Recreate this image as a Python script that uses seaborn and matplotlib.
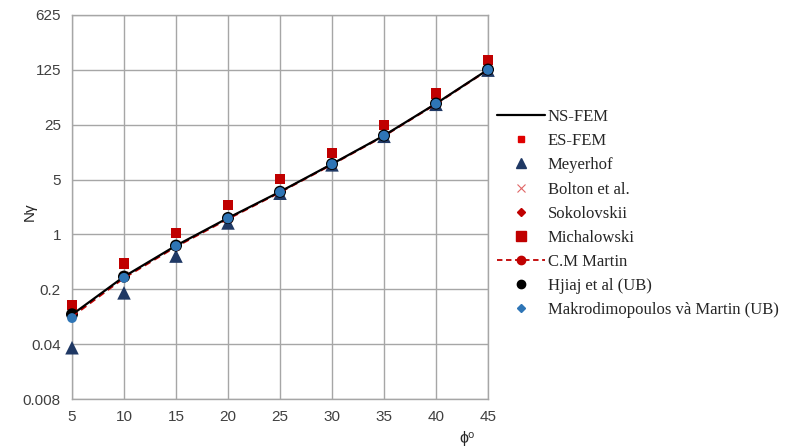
import numpy as np
import pandas as pd
import matplotlib
matplotlib.use("Agg")
import matplotlib.pyplot as plt
from matplotlib.lines import Line2D
import seaborn as sns

phi = [5, 10, 15, 20, 25, 30, 35, 40, 45]
ns_fem = [0.095, 0.29, 0.72, 1.62, 3.5, 7.9, 18.2, 46.5, 126]
es_fem = [0.098, 0.30, 0.74, 1.66, 3.6, 8.1, 18.6, 47.5, 129]
meyerhof = [0.036, 0.18, 0.53, 1.40, 3.35, 7.7, 17.8, 45.5, 124]
bolton = [0.097, 0.30, 0.73, 1.64, 3.55, 8.0, 18.4, 47.0, 128]
sokolovskii = [0.092, 0.28, 0.70, 1.58, 3.45, 7.8, 18.0, 46.0, 125]
michalowski = [0.126, 0.43, 1.04, 2.37, 5.1, 10.9, 24.8, 62.0, 167]
cm_martin = [0.090, 0.28, 0.70, 1.58, 3.45, 7.8, 18.0, 46.0, 125]
hjiaj = [0.096, 0.29, 0.72, 1.62, 3.5, 7.9, 18.2, 46.5, 126]
makro = [0.086, 0.28, 0.71, 1.60, 3.47, 7.85, 18.1, 46.2, 125]

y_ticks = [0.008, 0.04, 0.2, 1, 5, 25, 125, 625]
y_tick_labels = ["0.008", "0.04", "0.2", "1", "5", "25", "125", "625"]
x_ticks = [5, 10, 15, 20, 25, 30, 35, 40, 45]

labels = ["NS-FEM", "ES-FEM", "Meyerhof", "Bolton et al.", "Sokolovskii",
          "Michalowski", "C.M Martin", "Hjiaj et al (UB)",
          "Makrodimopoulos và Martin (UB)"]

df = pd.DataFrame({"phi": phi, "ns": ns_fem, "es": es_fem, "mey": meyerhof,
                   "bol": bolton, "sok": sokolovskii, "mic": michalowski,
                   "mar": cm_martin, "hji": hjiaj, "mak": makro})

sns.set_style("white")
plt.rcParams['font.family'] = ['Liberation Sans', 'DejaVu Sans']

fig = plt.figure(figsize=(7.96, 4.48), dpi=100)
ax = fig.add_axes([72/796, 1-399/448, (488-72)/796, (399-15)/448])

red = "#E00000"
dred = "#C00000"
navy = "#1F3864"
blue = "#2E75B6"

sns.scatterplot(data=df, x="phi", y="mic", marker="s", s=60, color=dred,
                edgecolor="none", ax=ax, zorder=3, clip_on=False)
sns.scatterplot(data=df, x="phi", y="mey", marker="^", s=95, color=navy,
                edgecolor="none", ax=ax, zorder=3, clip_on=False)
sns.scatterplot(data=df, x="phi", y="es", marker="s", s=25, color=red,
                edgecolor="none", ax=ax, zorder=3, clip_on=False)
sns.scatterplot(data=df, x="phi", y="bol", marker="x", s=30, color="#E06666",
                linewidth=1, ax=ax, zorder=3, clip_on=False)
sns.scatterplot(data=df, x="phi", y="sok", marker="D", s=20, color=dred,
                edgecolor="none", ax=ax, zorder=3, clip_on=False)
sns.scatterplot(data=df, x="phi", y="hji", marker="o", s=75, color="black",
                edgecolor="none", ax=ax, zorder=4, clip_on=False)
sns.lineplot(data=df, x="phi", y="mar", color=dred, linestyle=(0, (3, 2)),
             linewidth=1.6, marker="o", markersize=5, markeredgewidth=0,
             ax=ax, zorder=5, clip_on=False)
sns.lineplot(data=df, x="phi", y="ns", color="black", linewidth=1.6, ax=ax,
             zorder=5, clip_on=False)
sns.scatterplot(data=df, x="phi", y="mak", marker="o", s=50, color=blue,
                edgecolor="none", ax=ax, zorder=6, clip_on=False)

ax.set_yscale("log", base=5)
ax.set_ylim(0.008, 625)
ax.set_xlim(5, 45)
ax.set_yticks(y_ticks)
ax.set_yticklabels(y_tick_labels)
ax.yaxis.set_minor_locator(matplotlib.ticker.NullLocator())
ax.set_xticks(x_ticks)
ax.set_xticklabels([str(v) for v in x_ticks])
ax.grid(True, color="#A6A6A6", linewidth=1)
ax.set_axisbelow(True)
for s in ax.spines.values():
    s.set_color("#A6A6A6")
    s.set_linewidth(1)
ax.tick_params(axis="both", which="major", length=4, color="#A6A6A6",
               labelsize=11, labelcolor="#404040", pad=4)
ax.set_xlabel("")
ax.set_ylabel("")
fig.text(30/796, 1-212/448, "Nγ", rotation=90, ha="center", va="center",
         fontsize=11, color="#262626")
fig.text(467/796, 1-438/448, "ϕ⁰", ha="center", va="center",
         fontsize=11.5, color="#262626")

handles = [
    Line2D([], [], color="black", linewidth=1.6),
    Line2D([], [], color=red, marker="s", linestyle="none", markersize=5),
    Line2D([], [], color=navy, marker="^", linestyle="none", markersize=7),
    Line2D([], [], color="#E06666", marker="x", linestyle="none", markersize=6, markeredgewidth=0.8),
    Line2D([], [], color=dred, marker="D", linestyle="none", markersize=4.5),
    Line2D([], [], color=dred, marker="s", linestyle="none", markersize=7),
    Line2D([], [], color=dred, marker="o", linestyle=(0, (3, 2)), linewidth=1.3, markersize=6),
    Line2D([], [], color="black", marker="o", linestyle="none", markersize=6),
    Line2D([], [], color=blue, marker="D", linestyle="none", markersize=4.5),
]
leg = fig.legend(handles, labels, loc="upper left",
                 bbox_to_anchor=(497/796, 1-109/448), frameon=False,
                 prop={"family": "Liberation Serif", "size": 12},
                 handlelength=2.9, handletextpad=0.15, labelspacing=0.49,
                 borderpad=0, borderaxespad=0)
for t in leg.get_texts():
    t.set_color("#262626")

fig.savefig("out.png", dpi=100)
